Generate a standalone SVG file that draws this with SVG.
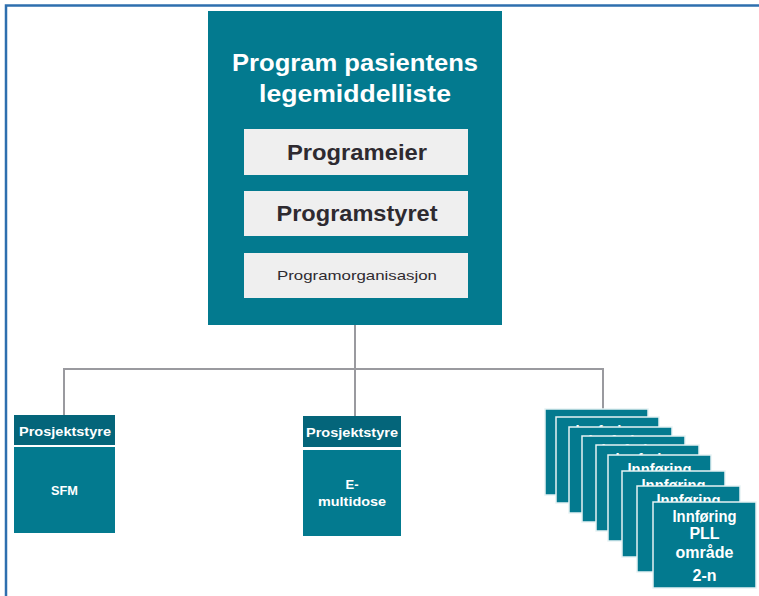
<svg xmlns="http://www.w3.org/2000/svg" width="759" height="596" viewBox="0 0 759 596">
  <style>
    .frame { stroke: #2e6fae; stroke-width: 2.5; fill: none; }
    .teal { fill: #037a8f; }
    .head { fill: #04657a; }
    .light { fill: #efefef; }
    .card { fill: #037a8f; stroke: #e6f2f4; stroke-width: 1.5; }
    .conn { stroke: #9a9a9f; stroke-width: 2; fill: none; }
    .title { font-family: "Liberation Sans", Arial, sans-serif; font-weight: bold; font-size: 24px; fill: #ffffff; text-anchor: middle; }
    .role { font-family: "Liberation Sans", Arial, sans-serif; font-weight: bold; font-size: 22px; fill: #2e2a30; text-anchor: middle; }
    .org { font-family: "Liberation Sans", Arial, sans-serif; font-size: 13px; fill: #2e2a30; text-anchor: middle; }
    .hd { font-family: "Liberation Sans", Arial, sans-serif; font-weight: bold; font-size: 13px; fill: #ffffff; text-anchor: middle; }
    .sm { font-family: "Liberation Sans", Arial, sans-serif; font-weight: bold; font-size: 13px; fill: #ffffff; text-anchor: middle; }
    .ct { font-family: "Liberation Sans", Arial, sans-serif; font-weight: bold; font-size: 16px; fill: #ffffff; text-anchor: middle; }
  </style>
  <defs>
    <!-- one card of the stacked implementation areas -->
    <g id="card-tpl">
      <rect class="card" x="0" y="0" width="103" height="86"/>
      <text class="ct" x="51.5" y="20" textLength="64" lengthAdjust="spacingAndGlyphs">Innføring</text>
      <text class="ct" x="51.5" y="37">PLL</text>
      <text class="ct" x="51.5" y="56">område</text>
      <text class="ct" x="51.5" y="79">2-n</text>
    </g>
  </defs>

  <rect width="759" height="596" fill="#ffffff"/>
  <!-- outer frame (top and left edges) -->
  <path class="frame" d="M6 596 V5.5 H759"/>

  <!-- connectors -->
  <g id="connectors">
    <path class="conn" d="M355 325 V369"/>
    <path class="conn" d="M64 416 V369 H603 V409"/>
    <path class="conn" d="M355 369 V416"/>
  </g>

  <!-- programme box -->
  <g id="program">
    <rect class="teal" x="208" y="11" width="294" height="314"/>
    <text class="title" x="355" y="71" textLength="246" lengthAdjust="spacingAndGlyphs">Program pasientens</text>
    <text class="title" x="355" y="102" textLength="192" lengthAdjust="spacingAndGlyphs">legemiddelliste</text>
  </g>
  <g id="programeier">
    <rect class="light" x="244" y="129" width="224" height="46"/>
    <text class="role" x="357" y="160" textLength="140" lengthAdjust="spacingAndGlyphs">Programeier</text>
  </g>
  <g id="programstyret">
    <rect class="light" x="244" y="191" width="224" height="45"/>
    <text class="role" x="357" y="221" textLength="161" lengthAdjust="spacingAndGlyphs">Programstyret</text>
  </g>
  <g id="programorganisasjon">
    <rect class="light" x="244" y="253" width="224" height="45"/>
    <text class="org" x="357" y="280" textLength="160" lengthAdjust="spacingAndGlyphs">Programorganisasjon</text>
  </g>

  <!-- project SFM -->
  <g id="sfm">
    <rect class="head" x="14" y="415" width="101" height="30"/>
    <text class="hd" x="65" y="436" textLength="92" lengthAdjust="spacingAndGlyphs">Prosjektstyre</text>
    <rect class="teal" x="14" y="447" width="101" height="86"/>
    <text class="sm" x="64.5" y="495" textLength="27" lengthAdjust="spacingAndGlyphs">SFM</text>
  </g>

  <!-- project E-multidose -->
  <g id="emultidose">
    <rect class="head" x="303" y="416" width="98" height="31"/>
    <text class="hd" x="352" y="437" textLength="92" lengthAdjust="spacingAndGlyphs">Prosjektstyre</text>
    <rect class="teal" x="303" y="450" width="98" height="86"/>
    <text class="sm" x="352" y="489">E-</text>
    <text class="sm" x="352" y="506" textLength="68" lengthAdjust="spacingAndGlyphs">multidose</text>
  </g>

  <!-- stacked implementation areas -->
  <g id="innforing">
    <use href="#card-tpl" x="545" y="409"/>
    <use href="#card-tpl" x="556" y="417"/>
    <use href="#card-tpl" x="569" y="427"/>
    <use href="#card-tpl" x="582" y="436"/>
    <use href="#card-tpl" x="596" y="445"/>
    <use href="#card-tpl" x="608" y="455"/>
    <use href="#card-tpl" x="622" y="471"/>
    <use href="#card-tpl" x="637" y="486"/>
    <use href="#card-tpl" x="653" y="502"/>
  </g>
</svg>
